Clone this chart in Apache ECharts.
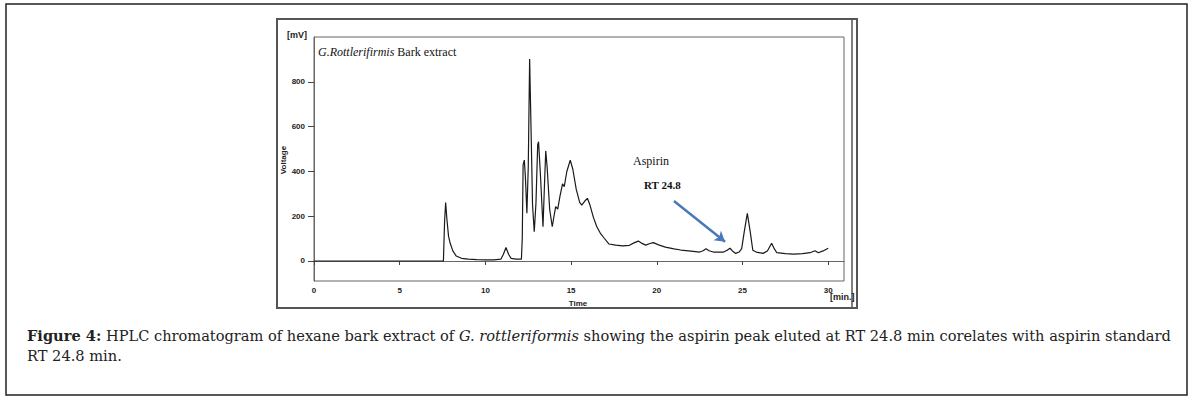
<!DOCTYPE html>
<html>
<head>
<meta charset="utf-8">
<script src="https://cdn.jsdelivr.net/npm/echarts@6/dist/echarts.min.js"></script>
<style>
html,body{margin:0;padding:0;background:#fff;}
#c{width:1196px;height:399px;}
</style>
</head>
<body>
<div id="c"></div>
<script>
// Retention time (min)
const times = [0, 7.55, 7.62, 7.68, 7.75, 7.85, 7.95, 8.1, 8.3, 8.6, 9.0, 9.5, 10.0, 10.5, 10.9, 11.05, 11.2, 11.35, 11.5, 11.8, 12.1,
  12.15, 12.2, 12.27, 12.33, 12.42, 12.5, 12.58, 12.66, 12.75, 12.85, 12.95, 13.05, 13.1, 13.2, 13.36, 13.45, 13.52, 13.6, 13.75, 13.9,
  14.0, 14.1, 14.22, 14.35, 14.5, 14.6, 14.75, 14.95, 15.1, 15.3, 15.5, 15.62, 15.8, 15.95, 16.1, 16.3, 16.5, 16.7, 16.9, 17.2, 17.6,
  18.0, 18.4, 18.7, 18.92, 19.1, 19.35, 19.6, 19.8, 20.1, 20.5, 21.0, 21.4, 22.0, 22.5, 22.7, 22.87, 23.05, 23.3, 23.9, 24.1, 24.27,
  24.45, 24.6, 24.8, 24.95, 25.1, 25.28, 25.45, 25.6, 25.8, 26.2, 26.45, 26.7, 26.85, 27.0, 27.5, 28.0, 28.5, 28.94, 29.23, 29.42, 29.7, 30.0];
// Detector signal (mV)
const voltage = [0, 0, 180, 261, 190, 110, 78, 45, 22, 12, 8, 6, 5, 5, 8, 30, 60, 30, 12, 8, 8,
  100, 430, 451, 380, 214, 420, 903, 600, 250, 131, 260, 520, 533, 400, 153, 350, 492, 420, 230, 153,
  200, 243, 232, 290, 345, 332, 400, 451, 410, 320, 262, 250, 268, 280, 250, 195, 153, 125, 105, 76, 71,
  68, 70, 82, 89, 80, 71, 78, 82, 72, 62, 54, 49, 44, 40, 46, 55, 46, 40, 40, 48, 57,
  42, 34, 40, 55, 130, 213, 130, 48, 40, 34, 45, 79, 55, 37, 33, 31, 33, 37, 46, 37, 45, 57];
const xTicks = [0, 5, 10, 15, 20, 25, 30];
const yTicks = [0, 200, 400, 600, 800];
// Aspirin annotation arrow (time, mV)
const arrowFrom = [21.0, 268];
const arrowTo = [23.98, 86];

const chart = echarts.init(document.getElementById('c'), null, {renderer: 'svg'});
const sans = 'Liberation Sans, Arial, sans-serif';
const serif = 'Liberation Serif, Times New Roman, serif';
const capFont = 'DejaVu Serif, serif';
const capSize = 14.6;

chart.setOption({
  animation: false,
  backgroundColor: '#fff',
  grid: {left: 314, top: 37, width: 530, height: 244, show: true, borderColor: '#666', borderWidth: 1, containLabel: false},
  xAxis: {
    type: 'value', min: 0, max: 30.92,
    splitLine: {show: false},
    axisLine: {show: true, lineStyle: {color: '#666', width: 1}},
    axisTick: {show: true, length: 4, customValues: xTicks, lineStyle: {color: '#444'}},
    axisLabel: {customValues: xTicks, margin: 5, fontSize: 8, fontWeight: 'bold', fontFamily: sans, color: '#222'}
  },
  yAxis: {
    type: 'value', min: -89.4, max: 1001,
    splitLine: {show: false},
    axisLine: {show: true, lineStyle: {color: '#666', width: 1}},
    axisTick: {show: true, length: 6, customValues: yTicks, lineStyle: {color: '#444'}},
    axisLabel: {customValues: yTicks, margin: 9, fontSize: 8, fontWeight: 'bold', fontFamily: sans, color: '#222'}
  },
  series: [{
    type: 'line',
    data: times.map((t, i) => [t, voltage[i]]),
    showSymbol: false,
    lineStyle: {color: '#1a1a1a', width: 1.2},
    markLine: {
      silent: true,
      symbol: ['none', 'arrow'],
      symbolSize: [9, 10],
      label: {show: false},
      lineStyle: {color: '#4a78b8', width: 2.5, type: 'solid'},
      data: [[{coord: arrowFrom}, {coord: arrowTo}]]
    }
  }],
  graphic: [
    {type: 'rect', shape: {x: 6, y: 4, width: 1181, height: 391}, style: {fill: 'none', stroke: '#222', lineWidth: 1.5}, silent: true},
    {type: 'rect', shape: {x: 277, y: 19, width: 580, height: 289}, style: {fill: 'none', stroke: '#555', lineWidth: 2}, silent: true},
    {type: 'line', shape: {x1: 852, y1: 19, x2: 852, y2: 308}, style: {stroke: '#555', lineWidth: 1.5}, silent: true},
    {type: 'text', x: 287, y: 35, style: {text: '[mV]', font: 'bold 9px ' + sans, fill: '#222', verticalAlign: 'middle', textAlign: 'left'}},
    {type: 'text', x: 283, y: 160, rotation: Math.PI / 2, style: {text: 'Voltage', font: 'bold 8px ' + sans, fill: '#222', verticalAlign: 'middle', textAlign: 'center'}},
    {type: 'text', x: 578, y: 303, style: {text: 'Time', font: 'bold 8px ' + sans, fill: '#222', verticalAlign: 'middle', textAlign: 'center'}},
    {type: 'text', x: 830, y: 297, style: {text: '[min.]', font: 'bold 9px ' + sans, fill: '#222', verticalAlign: 'middle', textAlign: 'left'}},
    {type: 'text', x: 318, y: 52, style: {
      text: '{i|G.Rottlerifirmis} Bark extract', fontFamily: serif, fontSize: 12, fill: '#111', verticalAlign: 'middle', textAlign: 'left',
      rich: {i: {fontFamily: serif, fontSize: 12, fontStyle: 'italic', fill: '#111'}}
    }},
    {type: 'text', x: 633, y: 161, style: {text: 'Aspirin', font: '12px ' + serif, fill: '#111', verticalAlign: 'middle', textAlign: 'left'}},
    {type: 'text', x: 644, y: 185, style: {text: 'RT 24.8', font: 'bold 11px ' + serif, fill: '#111', verticalAlign: 'middle', textAlign: 'left'}},
    {type: 'text', x: 27, y: 335, style: {
      text: '{b|Figure 4:} HPLC chromatogram of hexane bark extract of {i|G. rottleriformis} showing the aspirin peak eluted at RT 24.8 min corelates with aspirin standard',
      fontFamily: capFont, fontSize: capSize, fill: '#222', verticalAlign: 'middle', textAlign: 'left',
      rich: {
        b: {fontFamily: capFont, fontSize: capSize, fontWeight: 'bold', fill: '#222'},
        i: {fontFamily: capFont, fontSize: capSize, fontStyle: 'italic', fill: '#222'}
      }
    }},
    {type: 'text', x: 27, y: 355, style: {text: 'RT 24.8 min.', fontFamily: capFont, fontSize: capSize, fill: '#222', verticalAlign: 'middle', textAlign: 'left'}}
  ]
});
</script>
</body>
</html>
